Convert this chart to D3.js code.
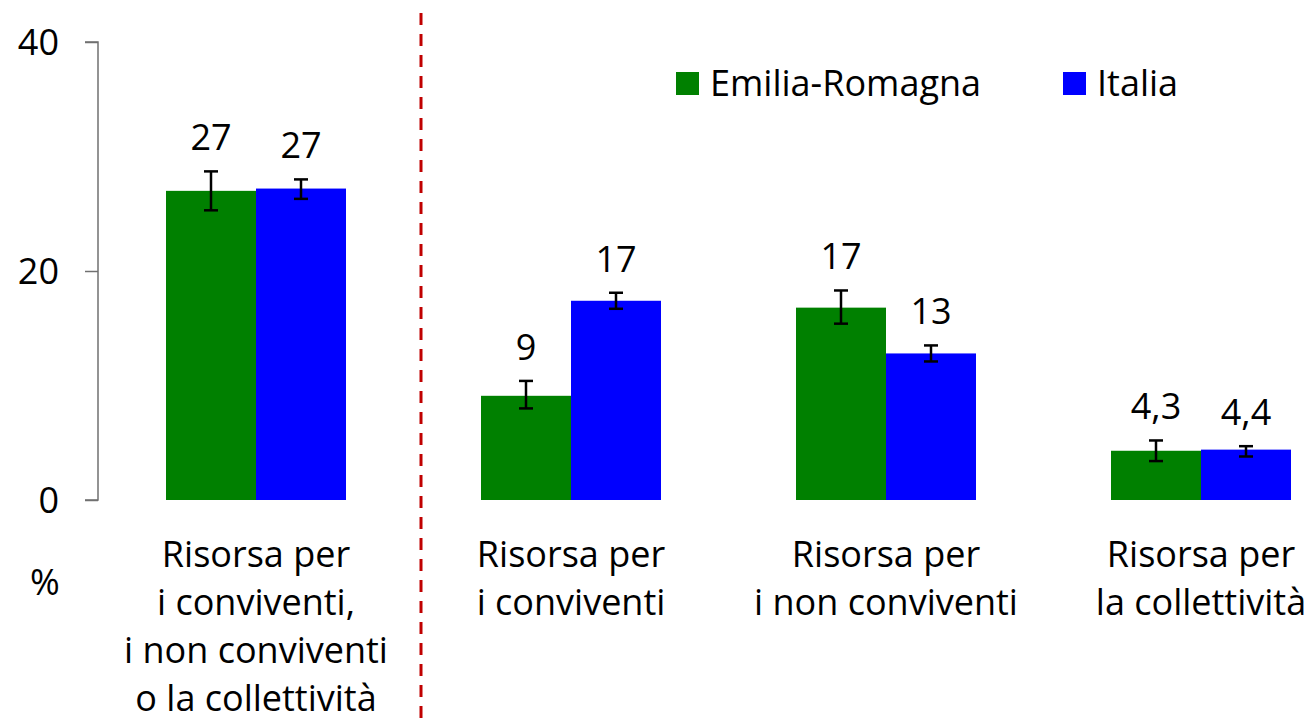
<!DOCTYPE html>
<html>
<head>
<meta charset="utf-8">
<script src="https://cdn.jsdelivr.net/npm/d3@7"></script>
<style>
  html, body { margin: 0; padding: 0; background: #fff; }
  svg { display: block; }
  text { font-family: "Open Sans", sans-serif; fill: #000; }
</style>
</head>
<body>
<svg id="chart" width="1316" height="724"></svg>
<script>
// ---- Data ----
const categories = [
  ["Risorsa per", "i conviventi,", "i non conviventi", "o la collettività"],
  ["Risorsa per", "i conviventi"],
  ["Risorsa per", "i non conviventi"],
  ["Risorsa per", "la collettività"]
];
const seriesNames = ["Emilia-Romagna", "Italia"];
const seriesColors = ["#008000", "#0000FF"];
const emiliaValues = [27.0, 9.1, 16.8, 4.3];
const italiaValues = [27.2, 17.4, 12.8, 4.4];
const emiliaLow  = [25.3, 8.0, 15.4, 3.4];
const emiliaHigh = [28.7, 10.4, 18.3, 5.2];
const italiaLow  = [26.3, 16.7, 12.1, 3.8];
const italiaHigh = [28.0, 18.1, 13.5, 4.7];
const emiliaLabels = ["27", "9", "17", "4,3"];
const italiaLabels = ["27", "17", "13", "4,4"];
const yTicks = [0, 20, 40];
const yUnit = "%";

// ---- Setup ----
const svg = d3.select("#chart");
const FS = 36;

const y = d3.scaleLinear().domain([0, 40]).range([500, 42]);
const x0 = d3.scaleBand().domain(d3.range(categories.length)).range([98.5, 1358.5]).padding(0);
const x1 = d3.scaleBand().domain(seriesNames).range([67.5, 247.5]).padding(0);

const series = [
  { name: seriesNames[0], color: seriesColors[0], values: emiliaValues, low: emiliaLow, high: emiliaHigh, labels: emiliaLabels },
  { name: seriesNames[1], color: seriesColors[1], values: italiaValues, low: italiaLow, high: italiaHigh, labels: italiaLabels }
];

// Y axis
const yAxis = d3.axisLeft(y).tickValues(yTicks).tickSize(13).tickPadding(26).tickFormat(d3.format("d"));
const gy = svg.append("g").attr("transform", "translate(98,0)").call(yAxis);
gy.select(".domain").attr("stroke", "#707070").attr("stroke-width", 1.5).attr("d", "M-13,42H0V500H-13");
gy.selectAll(".tick line").attr("stroke", "#707070").attr("stroke-width", 1.5);
gy.selectAll(".tick text").style("font-family", "Open Sans, sans-serif").style("font-size", FS + "px").attr("fill", "#000").attr("dy", "0.36em");

// unit
svg.append("text").attr("x", 45).attr("y", 582).attr("dy", "0.36em").attr("text-anchor", "middle")
  .style("font-size", FS + "px").text(yUnit);

// Bars
series.forEach((s, si) => {
  const g = svg.append("g");
  g.selectAll("rect").data(s.values).join("rect")
    .attr("x", (d, i) => x0(i) + x1(s.name))
    .attr("width", x1.bandwidth())
    .attr("y", d => y(d))
    .attr("height", d => y(0) - y(d))
    .attr("fill", s.color);

  // error bars
  const cx = i => x0(i) + x1(s.name) + x1.bandwidth() / 2;
  const eg = svg.append("g").attr("stroke", "#000").attr("stroke-width", 2.5);
  s.values.forEach((v, i) => {
    eg.append("line").attr("x1", cx(i)).attr("x2", cx(i)).attr("y1", y(s.low[i])).attr("y2", y(s.high[i]));
    eg.append("line").attr("x1", cx(i) - 7).attr("x2", cx(i) + 7).attr("y1", y(s.low[i])).attr("y2", y(s.low[i]));
    eg.append("line").attr("x1", cx(i) - 7).attr("x2", cx(i) + 7).attr("y1", y(s.high[i])).attr("y2", y(s.high[i]));
  });

  // value labels
  svg.append("g").selectAll("text").data(s.labels).join("text")
    .attr("x", (d, i) => cx(i))
    .attr("y", (d, i) => y(s.high[i]) - 21)
    .attr("text-anchor", "middle")
    .style("font-size", FS + "px")
    .text(d => d);
});

// Category labels
const cg = svg.append("g");
categories.forEach((lines, i) => {
  const t = cg.append("text").attr("text-anchor", "middle").style("font-size", FS + "px");
  lines.forEach((ln, k) => {
    t.append("tspan").attr("x", x0(i) + x0.bandwidth() / 2).attr("y", 567 + k * 48).text(ln);
  });
});

// Divider
svg.append("line").attr("x1", 421).attr("x2", 421).attr("y1", 13).attr("y2", 724)
  .attr("stroke", "#C00000").attr("stroke-width", 3).attr("stroke-dasharray", "12,9");

// Legend
const legendX = [676, 1063];
series.forEach((s, si) => {
  svg.append("rect").attr("x", legendX[si]).attr("y", 72).attr("width", 23).attr("height", 23).attr("fill", s.color);
  svg.append("text").attr("x", legendX[si] + 34).attr("y", 83).attr("dy", "0.36em")
    .style("font-size", FS + "px").text(s.name);
});
</script>
</body>
</html>
